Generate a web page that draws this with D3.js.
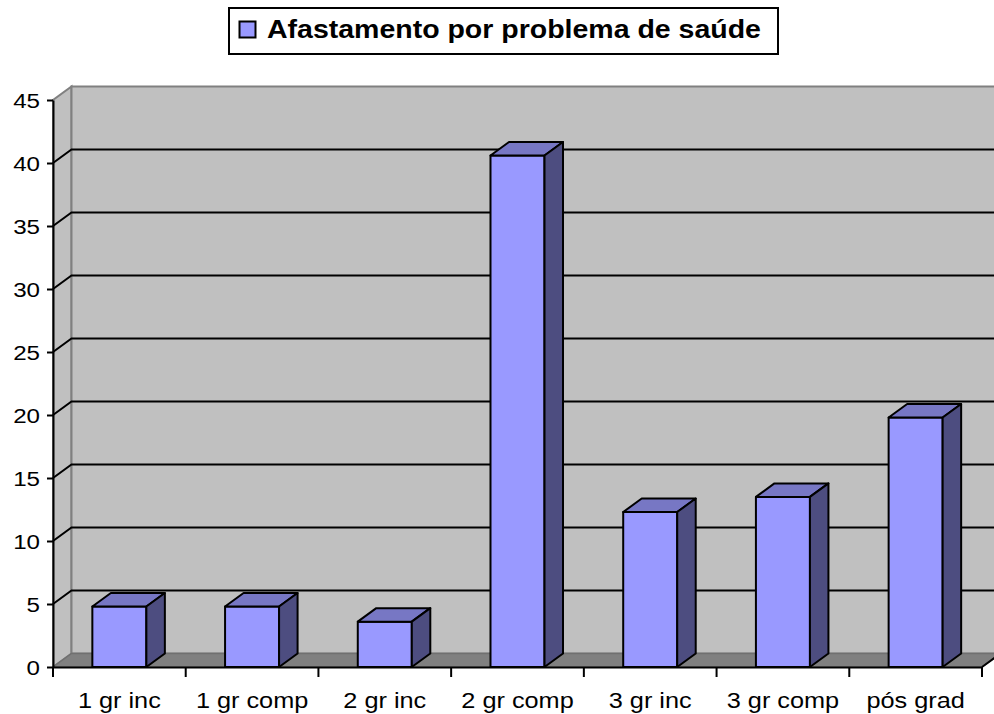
<!DOCTYPE html>
<html>
<head>
<meta charset="utf-8">
<script src="https://cdn.jsdelivr.net/npm/d3@7"></script>
<style>
  body { margin: 0; background: #fff; }
  text { font-family: "Liberation Sans", Arial, sans-serif; fill: #000; }
</style>
</head>
<body>
<script>
const categories = ['1 gr inc', '1 gr comp', '2 gr inc', '2 gr comp', '3 gr inc', '3 gr comp', 'pós grad'];
const values = [4.8, 4.8, 3.6, 40.6, 12.3, 13.5, 19.8];
const yTicks = [0, 5, 10, 15, 20, 25, 30, 35, 40, 45];
const seriesName = 'Afastamento por problema de saúde';

const width = 994;
const height = 714;
const plotLeft = 53, plotRight = 982, plotBottom = 667, plotTop = 100;
const dx = 18.5, dy = -13.5;   // depth offset of the 3d box
const sx = 1.15;               // text in the picture is stretched sideways

const svg = d3.select('body').append('svg')
    .attr('width', width)
    .attr('height', height);

const x = d3.scaleBand().domain(categories).range([plotLeft, plotRight]).padding(0);
const y = d3.scaleLinear().domain([0, 45]).range([plotBottom, plotTop]);

const pts = (arr) => arr.map(p => p.join(',')).join(' ');

// side wall
svg.append('polygon')
    .attr('points', pts([[plotLeft, y(0)], [plotLeft, y(45)], [plotLeft + dx, y(45) + dy], [plotLeft + dx, y(0) + dy]]))
    .attr('fill', '#c0c0c0')
    .attr('stroke', '#808080')
    .attr('stroke-width', 2);

// back wall
svg.append('polygon')
    .attr('points', pts([[plotLeft + dx, y(0) + dy], [plotLeft + dx, y(45) + dy], [plotRight + dx, y(45) + dy], [plotRight + dx, y(0) + dy]]))
    .attr('fill', '#c0c0c0')
    .attr('stroke', '#808080')
    .attr('stroke-width', 2);

// floor
svg.append('polygon')
    .attr('points', pts([[plotLeft, y(0)], [plotRight, y(0)], [plotRight + dx, y(0) + dy], [plotLeft + dx, y(0) + dy]]))
    .attr('fill', '#808080')
    .attr('stroke', '#707070')
    .attr('stroke-width', 1.5);
svg.append('line')
    .attr('x1', plotRight).attr('y1', y(0))
    .attr('x2', plotRight + dx).attr('y2', y(0) + dy)
    .attr('stroke', '#000').attr('stroke-width', 2);

// gridlines
const grid = svg.append('g').attr('stroke', '#000').attr('stroke-width', 2).attr('fill', 'none');
yTicks.filter(v => v > 0 && v < 45).forEach(v => {
    grid.append('polyline')
        .attr('points', pts([[plotLeft, y(v)], [plotLeft + dx, y(v) + dy], [plotRight + dx, y(v) + dy]]));
});

// bars
const barW = x.bandwidth() * 0.407;
const bars = svg.selectAll('g.bar')
    .data(categories.map((c, i) => ({ c, v: values[i] })))
    .enter().append('g')
    .attr('class', 'bar')
    .attr('stroke', '#000')
    .attr('stroke-width', 2)
    .attr('stroke-linejoin', 'round');

bars.each(function (d) {
    const g = d3.select(this);
    const x0 = x(d.c) + (x.bandwidth() - barW) / 2;
    const x1 = x0 + barW;
    const yt = y(d.v), yb = y(0);
    g.append('polygon')
        .attr('points', pts([[x0, yb], [x0, yt], [x1, yt], [x1, yb]]))
        .attr('fill', '#9999ff');
    g.append('polygon')
        .attr('points', pts([[x0, yt], [x0 + dx, yt + dy], [x1 + dx, yt + dy], [x1, yt]]))
        .attr('fill', '#7777c4');
    g.append('polygon')
        .attr('points', pts([[x1, yt], [x1 + dx, yt + dy], [x1 + dx, yb + dy], [x1, yb]]))
        .attr('fill', '#4d4d80');
});

// y axis
const yAxis = svg.append('g')
    .attr('transform', `translate(${plotLeft},0)`)
    .call(d3.axisLeft(y).tickValues(yTicks).tickSize(6).tickSizeOuter(0));
yAxis.select('.domain').attr('stroke-width', 2);
yAxis.selectAll('.tick line').attr('stroke-width', 2);
yAxis.selectAll('.tick text')
    .attr('font-family', '"Liberation Sans", Arial, sans-serif')
    .attr('font-size', 21)
    .attr('x', -13 / sx)
    .attr('dy', '0.36em')
    .attr('transform', `scale(${sx},1)`);

// x axis: labels centred, ticks on category boundaries
const xAxis = svg.append('g')
    .attr('transform', `translate(0,${plotBottom})`)
    .call(d3.axisBottom(x).tickSize(0).tickSizeOuter(0));
xAxis.select('.domain').attr('stroke-width', 2);
xAxis.selectAll('.tick text')
    .attr('font-family', '"Liberation Sans", Arial, sans-serif')
    .attr('font-size', 22)
    .attr('y', 41)
    .attr('dy', 0)
    .attr('transform', `scale(${sx},1)`);
const bounds = categories.map(c => x(c)).concat([plotRight]);
xAxis.selectAll('line.bound')
    .data(bounds)
    .enter().append('line')
    .attr('class', 'bound')
    .attr('x1', d => d).attr('x2', d => d)
    .attr('y1', 0).attr('y2', 10)
    .attr('stroke', '#000').attr('stroke-width', 2);

// legend
const legend = svg.append('g');
legend.append('rect')
    .attr('x', 229).attr('y', 8)
    .attr('width', 549).attr('height', 46)
    .attr('fill', '#fff').attr('stroke', '#000').attr('stroke-width', 2);
legend.append('rect')
    .attr('x', 239.5).attr('y', 21.5)
    .attr('width', 16).attr('height', 16)
    .attr('fill', '#9999ff').attr('stroke', '#000').attr('stroke-width', 2);
legend.append('text')
    .attr('x', 267 / 1.14).attr('y', 38)
    .attr('transform', 'scale(1.14,1)')
    .attr('font-size', 25)
    .attr('font-weight', 'bold')
    .text(seriesName);
</script>
</body>
</html>
